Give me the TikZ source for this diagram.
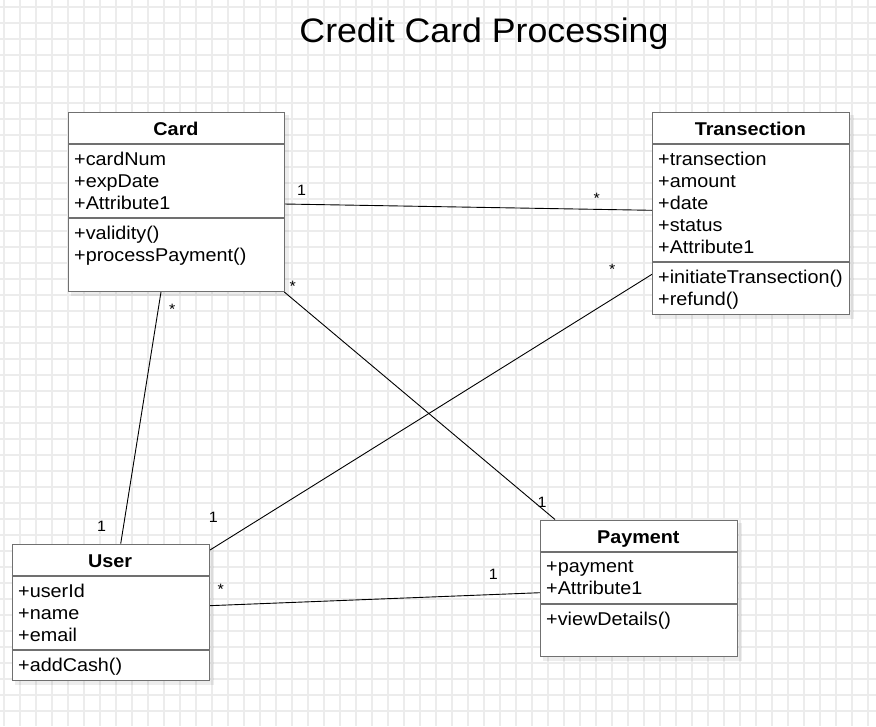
\documentclass[tikz,border=0pt]{standalone}
\usepackage{fontspec}
\setmainfont{Liberation Sans}
\newfontfamily\umlfont[FakeStretch=1.07]{Liberation Sans}
\newfontfamily\headfont[FakeStretch=1.05]{Liberation Sans}

\definecolor{gridgray}{RGB}{236,236,236}
\definecolor{boxgray}{RGB}{112,112,112}

\tikzset{
    classbox/.style={draw=boxgray, line width=1.4pt, fill=white, anchor=north west, inner sep=0pt},
    boxshadow/.style={fill=black, opacity=0.07},
    divider/.style={draw=boxgray, line width=1.4pt},
    classname/.style={font=\umlfont\fontsize{18.5}{22}\selectfont\bfseries, anchor=base, inner sep=0pt},
    members/.style={font=\umlfont\fontsize{18.5}{22}\selectfont, align=left, anchor=north west, inner sep=0pt},
    mult/.style={font=\umlfont\fontsize{15}{18}\selectfont, anchor=base, inner sep=0pt},
    assoc/.style={draw=black, line width=0.9pt},
}

\begin{document}
\begin{tikzpicture}[x=1pt,y=-1pt]
    \useasboundingbox (0,0) rectangle (876,726);
    \fill[white] (0,0) rectangle (876,726);

    % grid of the canvas
    \foreach \gx in {4,20,...,868}
        \draw[gridgray, line width=1.2pt] (\gx,0) -- (\gx,726);
    \foreach \gy in {7,23,...,711}
        \draw[gridgray, line width=1.2pt] (0,\gy) -- (876,\gy);

    \node[font=\headfont\fontsize{34}{40}\selectfont, anchor=base, inner sep=0pt] (title) at (484,42.7) {Credit Card Processing};

    % associations (drawn under the classes)
    \coordinate (cardR) at (284,204);
    \coordinate (transL) at (652,210.3);
    \coordinate (cardB) at (161,292);
    \coordinate (userT) at (120.7,543.7);
    \coordinate (cardC) at (284.3,292);
    \coordinate (payT) at (555,519.5);
    \coordinate (transM) at (652,274.3);
    \coordinate (userR) at (210,550);
    \coordinate (userM) at (209,605.7);
    \coordinate (payL) at (540,592.7);

    \draw[assoc] (cardR) -- (transL);
    \draw[assoc] (cardB) -- (userT);
    \draw[assoc] (cardC) -- (payT);
    \draw[assoc] (transM) -- (userR);
    \draw[assoc] (userM) -- (payL);

    % Card
    \fill[boxshadow] (71,115) rectangle (289,296);
    \node[classbox, minimum width=216pt, minimum height=179pt] (card) at (68,112) {};
    \draw[divider] (68,144) -- (284,144);
    \draw[divider] (68,218) -- (284,218);
    \node[classname] (cardname) at (176,135) {Card};
    \node[members] (cardattr) at (74,151.7) {+cardNum\\+expDate\\+Attribute1};
    \node[members] (cardops) at (74,225.7) {+validity()\\+processPayment()};

    % Transection
    \fill[boxshadow] (655,115) rectangle (853.7,319);
    \node[classbox, minimum width=196.7pt, minimum height=202.3pt] (trans) at (652,111.7) {};
    \draw[divider] (652,144) -- (848.7,144);
    \draw[divider] (652,262) -- (848.7,262);
    \node[classname] (transname) at (750.3,135) {Transection};
    \node[members] (transattr) at (658,151.7) {+transection\\+amount\\+date\\+status\\+Attribute1};
    \node[members] (transops) at (658,269.7) {+initiateTransection()\\+refund()};

    % User
    \fill[boxshadow] (15,547) rectangle (213.7,685);
    \node[classbox, minimum width=197pt, minimum height=136.3pt] (user) at (11.7,543.7) {};
    \draw[divider] (11.7,576) -- (208.7,576);
    \draw[divider] (11.7,650) -- (208.7,650);
    \node[classname] (username) at (110.2,567) {User};
    \node[members] (userattr) at (18,583.7) {+userId\\+name\\+email};
    \node[members] (userops) at (18,657.7) {+addCash()};

    % Payment
    \fill[boxshadow] (543,523) rectangle (741.7,661);
    \node[classbox, minimum width=196.7pt, minimum height=135.7pt] (pay) at (540,520) {};
    \draw[divider] (540,552) -- (736.7,552);
    \draw[divider] (540,604) -- (736.7,604);
    \node[classname] (payname) at (638.3,543) {Payment};
    \node[members] (payattr) at (546,560.5) {+payment\\+Attribute1};
    \node[members] (payops) at (546,611.7) {+viewDetails()};

    % multiplicities
    \node[mult] (m1) at (301.5,195) {1};
    \node[mult] (m2) at (596.7,203) {*};
    \node[mult] (m3) at (172.3,314.3) {*};
    \node[mult] (m4) at (101.7,531.4) {1};
    \node[mult] (m5) at (292.7,291.3) {*};
    \node[mult] (m6) at (542,507) {1};
    \node[mult] (m7) at (612.3,274.6) {*};
    \node[mult] (m8) at (213.3,522.7) {1};
    \node[mult] (m9) at (220.7,594.6) {*};
    \node[mult] (m10) at (493.3,579.4) {1};
\end{tikzpicture}
\end{document}
